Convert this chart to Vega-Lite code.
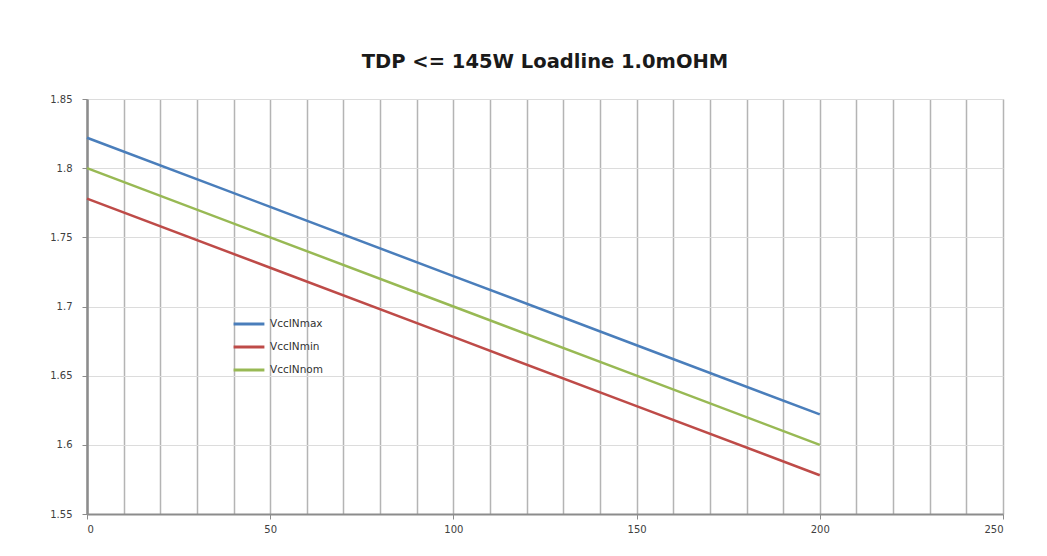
{
  "$schema": "https://vega.github.io/schema/vega-lite/v6.json",
  "width": 916,
  "height": 415,
  "autosize": {"type": "none"},
  "padding": {"left": 87, "top": 99, "right": 44, "bottom": 42},
  "background": "white",
  "title": {
    "text": "TDP <= 145W Loadline 1.0mOHM",
    "font": "DejaVu Sans",
    "fontSize": 19.5,
    "fontWeight": "bold",
    "color": "#1a1a1a",
    "anchor": "middle",
    "offset": 22
  },
  "data": {
    "values": [
      {"current": 0, "voltage": 1.822, "series": "VccINmax"},
      {"current": 50, "voltage": 1.772, "series": "VccINmax"},
      {"current": 100, "voltage": 1.722, "series": "VccINmax"},
      {"current": 150, "voltage": 1.672, "series": "VccINmax"},
      {"current": 200, "voltage": 1.622, "series": "VccINmax"},
      {"current": 0, "voltage": 1.778, "series": "VccINmin"},
      {"current": 50, "voltage": 1.728, "series": "VccINmin"},
      {"current": 100, "voltage": 1.678, "series": "VccINmin"},
      {"current": 150, "voltage": 1.628, "series": "VccINmin"},
      {"current": 200, "voltage": 1.578, "series": "VccINmin"},
      {"current": 0, "voltage": 1.8, "series": "VccINnom"},
      {"current": 50, "voltage": 1.75, "series": "VccINnom"},
      {"current": 100, "voltage": 1.7, "series": "VccINnom"},
      {"current": 150, "voltage": 1.65, "series": "VccINnom"},
      {"current": 200, "voltage": 1.6, "series": "VccINnom"}
    ]
  },
  "mark": {"type": "line", "strokeWidth": 2.5},
  "encoding": {
    "x": {
      "field": "current",
      "type": "quantitative",
      "scale": {"domain": [0, 250], "nice": false},
      "axis": {
        "title": null,
        "values": [0, 10, 20, 30, 40, 50, 60, 70, 80, 90, 100, 110, 120, 130, 140, 150, 160, 170, 180, 190, 200, 210, 220, 230, 240, 250],
        "labelExpr": "datum.value % 50 === 0 ? datum.label : ''",
        "tickOpacity": {"condition": {"test": "datum.value % 50 === 0", "value": 1}, "value": 0},
        "grid": true,
        "gridColor": "#b4b4b4",
        "gridWidth": 1.5,
        "domainColor": "#8c8c8c",
        "domainWidth": 2,
        "tickColor": "#8c8c8c",
        "tickSize": 5,
        "labelFont": "DejaVu Sans",
        "labelFontSize": 10,
        "labelColor": "#404040",
        "labelPadding": 5
      }
    },
    "y": {
      "field": "voltage",
      "type": "quantitative",
      "scale": {"domain": [1.55, 1.85], "nice": false, "zero": false},
      "axis": {
        "title": null,
        "values": [1.55, 1.6, 1.65, 1.7, 1.75, 1.8, 1.85],
        "format": ".3~g",
        "grid": true,
        "gridColor": "#dcdcdc",
        "gridWidth": 1,
        "domainColor": "#8c8c8c",
        "domainWidth": 2.5,
        "tickColor": "#8c8c8c",
        "tickSize": 5,
        "labelFont": "DejaVu Sans",
        "labelFontSize": 10,
        "labelColor": "#404040",
        "labelPadding": 10
      }
    },
    "color": {
      "field": "series",
      "type": "nominal",
      "scale": {
        "domain": ["VccINmax", "VccINmin", "VccINnom"],
        "range": ["#4a7ebb", "#be4b48", "#98b954"]
      },
      "legend": {
        "title": null,
        "orient": "none",
        "legendX": 145,
        "legendY": 208,
        "symbolType": "stroke",
        "symbolStrokeWidth": 3,
        "symbolSize": 950,
        "rowPadding": -5,
        "labelOffset": 4,
        "labelFont": "DejaVu Sans",
        "labelFontSize": 10.5,
        "labelColor": "#333333"
      }
    }
  },
  "config": {
    "view": {"stroke": "#c8c8c8", "strokeWidth": 1}
  }
}
